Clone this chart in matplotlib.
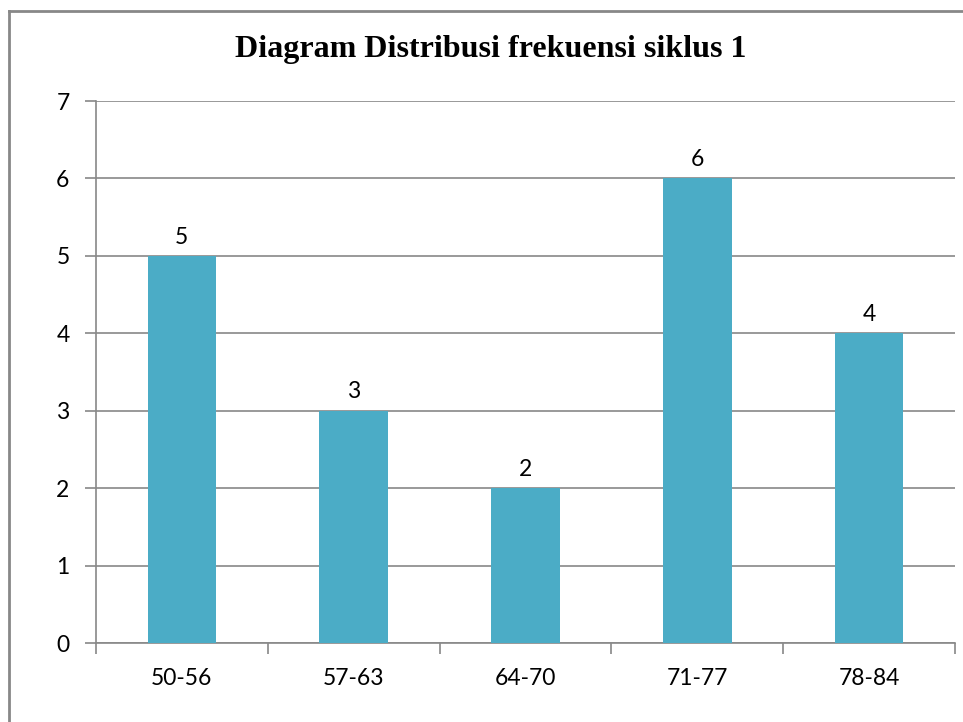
import matplotlib
matplotlib.use("Agg")
import matplotlib.pyplot as plt
from matplotlib.lines import Line2D
import numpy as np

categories = ["50-56", "57-63", "64-70", "71-77", "78-84"]
frequencies = [5, 3, 2, 6, 4]
title = "Diagram Distribusi frekuensi siklus 1"

W, H = 963, 722
fig = plt.figure(figsize=(W / 100, H / 100), dpi=100)
ax = fig.add_axes([96 / W, (H - 643) / H, (955 - 96) / W, (643 - 101) / H])

grey = "#888888"
fs = 16.5
x = np.arange(len(categories))
bars = ax.bar(x, frequencies, width=0.4, color="#4BACC6", zorder=3)
for xi, v in zip(x, frequencies):
    ax.annotate(str(v), (xi, v), xytext=(0, 6), textcoords="offset points",
                ha="center", va="bottom", fontsize=fs, family="Lato")

ax.set_xlim(-0.5, len(categories) - 0.5)
ax.set_ylim(0, 7)
ax.set_yticks(range(8))
ax.set_xticks(x)
ax.set_xticklabels(categories)
ax.set_xticks(np.arange(-0.5, len(categories)), minor=True)
ax.yaxis.grid(True, color=grey, lw=1.2, zorder=0)
ax.tick_params(axis="x", which="major", length=0, pad=18, labelsize=fs)
ax.tick_params(axis="x", which="minor", length=8, color=grey, width=1.2)
ax.tick_params(axis="y", length=8, color=grey, width=1.2, pad=11, labelsize=fs)
for lab in ax.get_xticklabels() + ax.get_yticklabels():
    lab.set_family("Lato")
for s in ["top", "right"]:
    ax.spines[s].set_visible(False)
for s in ["left", "bottom"]:
    ax.spines[s].set_color(grey)
    ax.spines[s].set_linewidth(1.2)

fig.text(491 / W, 1 - 50 / H, title, ha="center", va="center",
         fontsize=23, fontweight="bold", family="Liberation Serif")

# chart border (only left and top edges visible)
fig.add_artist(Line2D([8.5 / W, 8.5 / W], [0, 1 - 11 / H], transform=fig.transFigure, color=grey, lw=2))
fig.add_artist(Line2D([8.5 / W, 1], [1 - 11 / H, 1 - 11 / H], transform=fig.transFigure, color=grey, lw=2))

fig.savefig("out.png", dpi=100)
